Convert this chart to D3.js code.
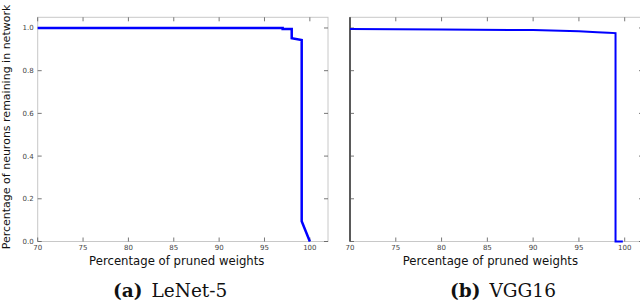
<!DOCTYPE html>
<html><head><meta charset="utf-8">
<script src="https://cdn.jsdelivr.net/npm/d3@7"></script>
<style>body{margin:0;background:#fff}svg{display:block}</style>
</head><body>
<script>
const xTicks = [70, 75, 80, 85, 90, 95, 100];
const yTicks = [0.0, 0.2, 0.4, 0.6, 0.8, 1.0];
const lenetX = [70, 97, 97, 98, 98, 99.1, 99.1, 100];
const lenetY = [1.0, 1.0, 0.995, 0.995, 0.952, 0.944, 0.095, 0.0];
const vggX = [70, 80, 90, 95, 97, 98.2, 99, 99, 99.8];
const vggY = [0.995, 0.993, 0.99, 0.985, 0.98, 0.978, 0.976, 0.0, 0.0];
const captions = ["(a)", "LeNet-5", "(b)", "VGG16"];
const xLabel = "Percentage of pruned weights";
const yLabel = "Percentage of neurons remaining in network";

const W = 640, H = 302;
const svg = d3.select("body").append("svg").attr("width", W).attr("height", H);

function panel(x0, x1, xs, ys, opts) {
  const top = 17.3, bot = 241.5;
  const x = d3.scaleLinear().domain([70, 102]).range([x0, x1]);
  const y = d3.scaleLinear().domain([0, 1.05]).range([bot, top]);
  const g = svg.append("g");
  g.append("rect").attr("x", x0).attr("y", top).attr("width", x1 - x0).attr("height", bot - top)
    .attr("fill", "none").attr("stroke", "#c8c8c8").attr("stroke-width", 1);
  const tk = 4;
  xTicks.forEach(v => {
    g.append("line").attr("x1", x(v)).attr("x2", x(v)).attr("y1", bot).attr("y2", bot - tk).attr("stroke", "#555").attr("stroke-width", 0.8);
    g.append("line").attr("x1", x(v)).attr("x2", x(v)).attr("y1", top).attr("y2", top + tk).attr("stroke", "#555").attr("stroke-width", 0.8);
    g.append("text").attr("x", x(v)).attr("y", bot + 8.5).attr("text-anchor", "middle")
      .attr("font-family", "DejaVu Sans").attr("font-size", 7).attr("fill", "#444").text(v);
  });
  yTicks.forEach(v => {
    g.append("line").attr("x1", x0).attr("x2", x0 + tk).attr("y1", y(v)).attr("y2", y(v)).attr("stroke", "#555").attr("stroke-width", 0.8);
    g.append("line").attr("x1", x1).attr("x2", x1 - tk).attr("y1", y(v)).attr("y2", y(v)).attr("stroke", "#555").attr("stroke-width", 0.8);
    if (opts.yLabels) {
      g.append("text").attr("x", x0 - 4).attr("y", y(v) + 2.5).attr("text-anchor", "end")
        .attr("font-family", "DejaVu Sans").attr("font-size", 7).attr("fill", "#444").text(v.toFixed(1));
    }
  });
  if (opts.darkLeft) {
    g.append("line").attr("x1", x0).attr("x2", x0).attr("y1", top).attr("y2", bot)
      .attr("stroke", "#5a5a5a").attr("stroke-width", 2);
  }
  const pts = xs.map((v, i) => [v, ys[i]]);
  g.append("path").datum(pts)
    .attr("d", d3.line().x(d => x(d[0])).y(d => y(d[1])))
    .attr("fill", "none").attr("stroke", "#0000ff").attr("stroke-width", opts.lw).attr("stroke-linejoin", "miter");
  g.append("text").attr("x", (x(70) + x(100)) / 2 + 3).attr("y", 265)
    .attr("text-anchor", "middle").attr("font-family", "DejaVu Sans").attr("font-size", 11.7).attr("fill", "#111").text(xLabel);
  const cap = g.append("text").attr("x", opts.capX).attr("y", 297).attr("text-anchor", "start")
    .attr("font-family", "DejaVu Serif").attr("font-size", 18.5).attr("fill", "#111");
  cap.append("tspan").attr("font-weight", "bold").text(opts.cap[0]);
  cap.append("tspan").attr("dx", 9).text(opts.cap[1]);
}

panel(37.7, 328, lenetX, lenetY, {yLabels: true, lw: 2.5, cap: [captions[0], captions[1]], capX: 113});
panel(350, 643, vggX, vggY, {yLabels: false, darkLeft: true, lw: 2, cap: [captions[2], captions[3]], capX: 450});

svg.append("text").attr("transform", "translate(9.5,127) rotate(-90)").attr("text-anchor", "middle")
  .attr("font-family", "DejaVu Sans").attr("font-size", 11).attr("fill", "#111").text(yLabel);
</script>
</body></html>
